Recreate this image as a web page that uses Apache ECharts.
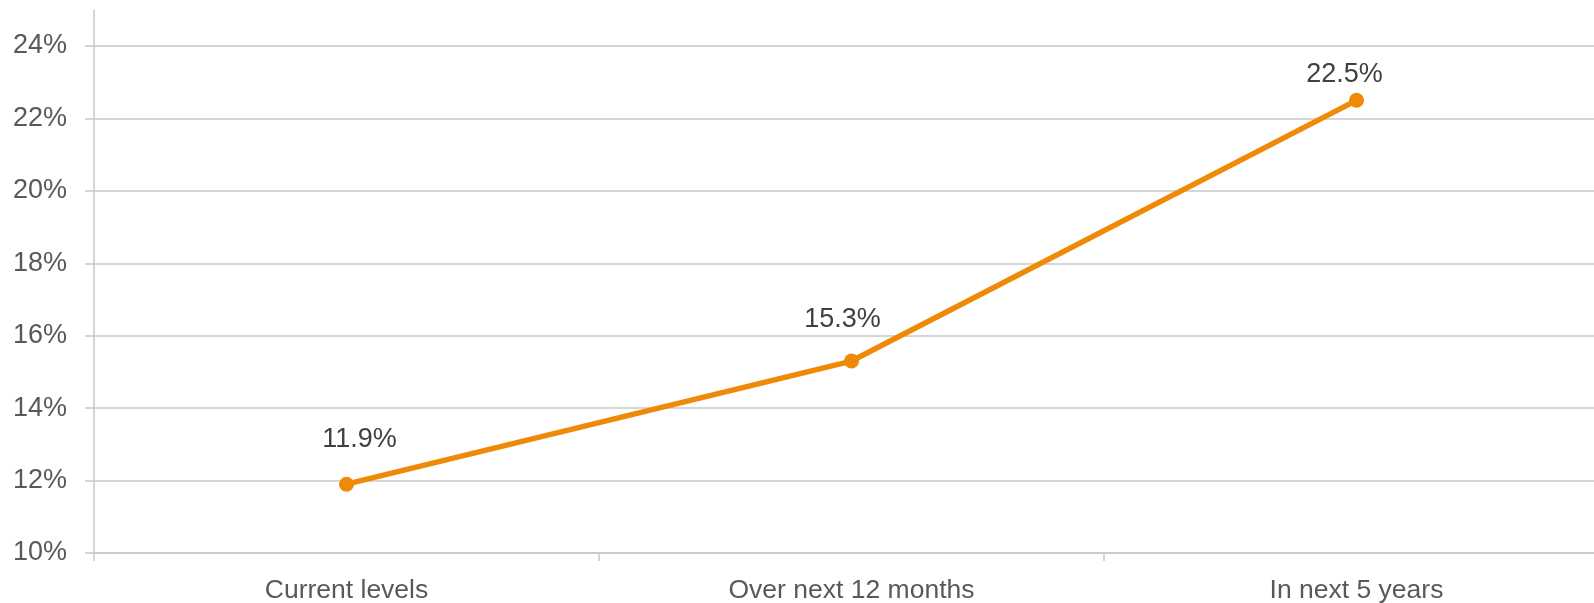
<!DOCTYPE html>
<html>
<head>
<meta charset="utf-8">
<script src="https://cdn.jsdelivr.net/npm/echarts@6/dist/echarts.min.js"></script>
<style>
  html, body { margin: 0; padding: 0; background: #fff; }
  #chart { width: 1594px; height: 603px; }
</style>
</head>
<body>
<div id="chart"></div>
<script>
  // categories and values
  var categories = ['Current levels', 'Over next 12 months', 'In next 5 years'];
  var values = [11.9, 15.3, 22.5];
  var yMin = 10, yMax = 24, yStep = 2;

  var font = 'Liberation Sans, Arial, sans-serif';
  var gridColor = '#c8c8c8';
  var lineColor = '#ee8a08';
  // data labels were nudged by hand in the original
  var labelOffsets = [[13, -4], [-9, -1], [-12, 15]];

  var seriesData = values.map(function (v, i) {
    return { value: v, label: { offset: labelOffsets[i] } };
  });

  var chart = echarts.init(document.getElementById('chart'));
  chart.setOption({
    animation: false,
    grid: [
      // main plot, runs a little past the right edge like the original
      { left: 94, width: 1515, top: 46, bottom: 50, containLabel: false, outerBoundsMode: 'none' },
      // only used to draw the y axis line up past the last gridline
      { left: 94, width: 1515, top: 10, bottom: 50, containLabel: false, outerBoundsMode: 'none' }
    ],
    xAxis: [{
      gridIndex: 0,
      type: 'category',
      data: categories,
      boundaryGap: true,
      axisLine: { lineStyle: { color: gridColor, width: 1.5 } },
      axisTick: { show: true, length: 8, lineStyle: { color: gridColor, width: 1.5 } },
      axisLabel: { color: '#595959', fontFamily: font, fontSize: 26.5, margin: 24 }
    }, {
      gridIndex: 1,
      type: 'category',
      data: categories,
      show: false
    }],
    yAxis: [{
      gridIndex: 0,
      type: 'value',
      min: yMin,
      max: yMax,
      interval: yStep,
      axisLine: { show: false },
      axisTick: { show: true, length: 9, lineStyle: { color: gridColor, width: 1.5 } },
      axisLabel: {
        color: '#595959', fontFamily: font, fontSize: 27, margin: 27,
        formatter: '{value}%'
      },
      splitLine: { lineStyle: { color: gridColor, width: 1.5 } }
    }, {
      gridIndex: 1,
      type: 'value',
      min: 0,
      max: 1,
      axisLine: { show: true, lineStyle: { color: gridColor, width: 1.5 } },
      axisTick: { show: false },
      axisLabel: { show: false },
      splitLine: { show: false }
    }],
    series: [{
      type: 'line',
      xAxisIndex: 0,
      yAxisIndex: 0,
      data: seriesData,
      symbol: 'circle',
      symbolSize: 15,
      lineStyle: { color: lineColor, width: 5.5 },
      itemStyle: { color: lineColor },
      label: {
        show: true,
        position: 'top',
        distance: 20,
        color: '#404040',
        fontFamily: font,
        fontSize: 27,
        formatter: function (p) { return p.value.toFixed(1) + '%'; }
      }
    }]
  });
</script>
</body>
</html>
